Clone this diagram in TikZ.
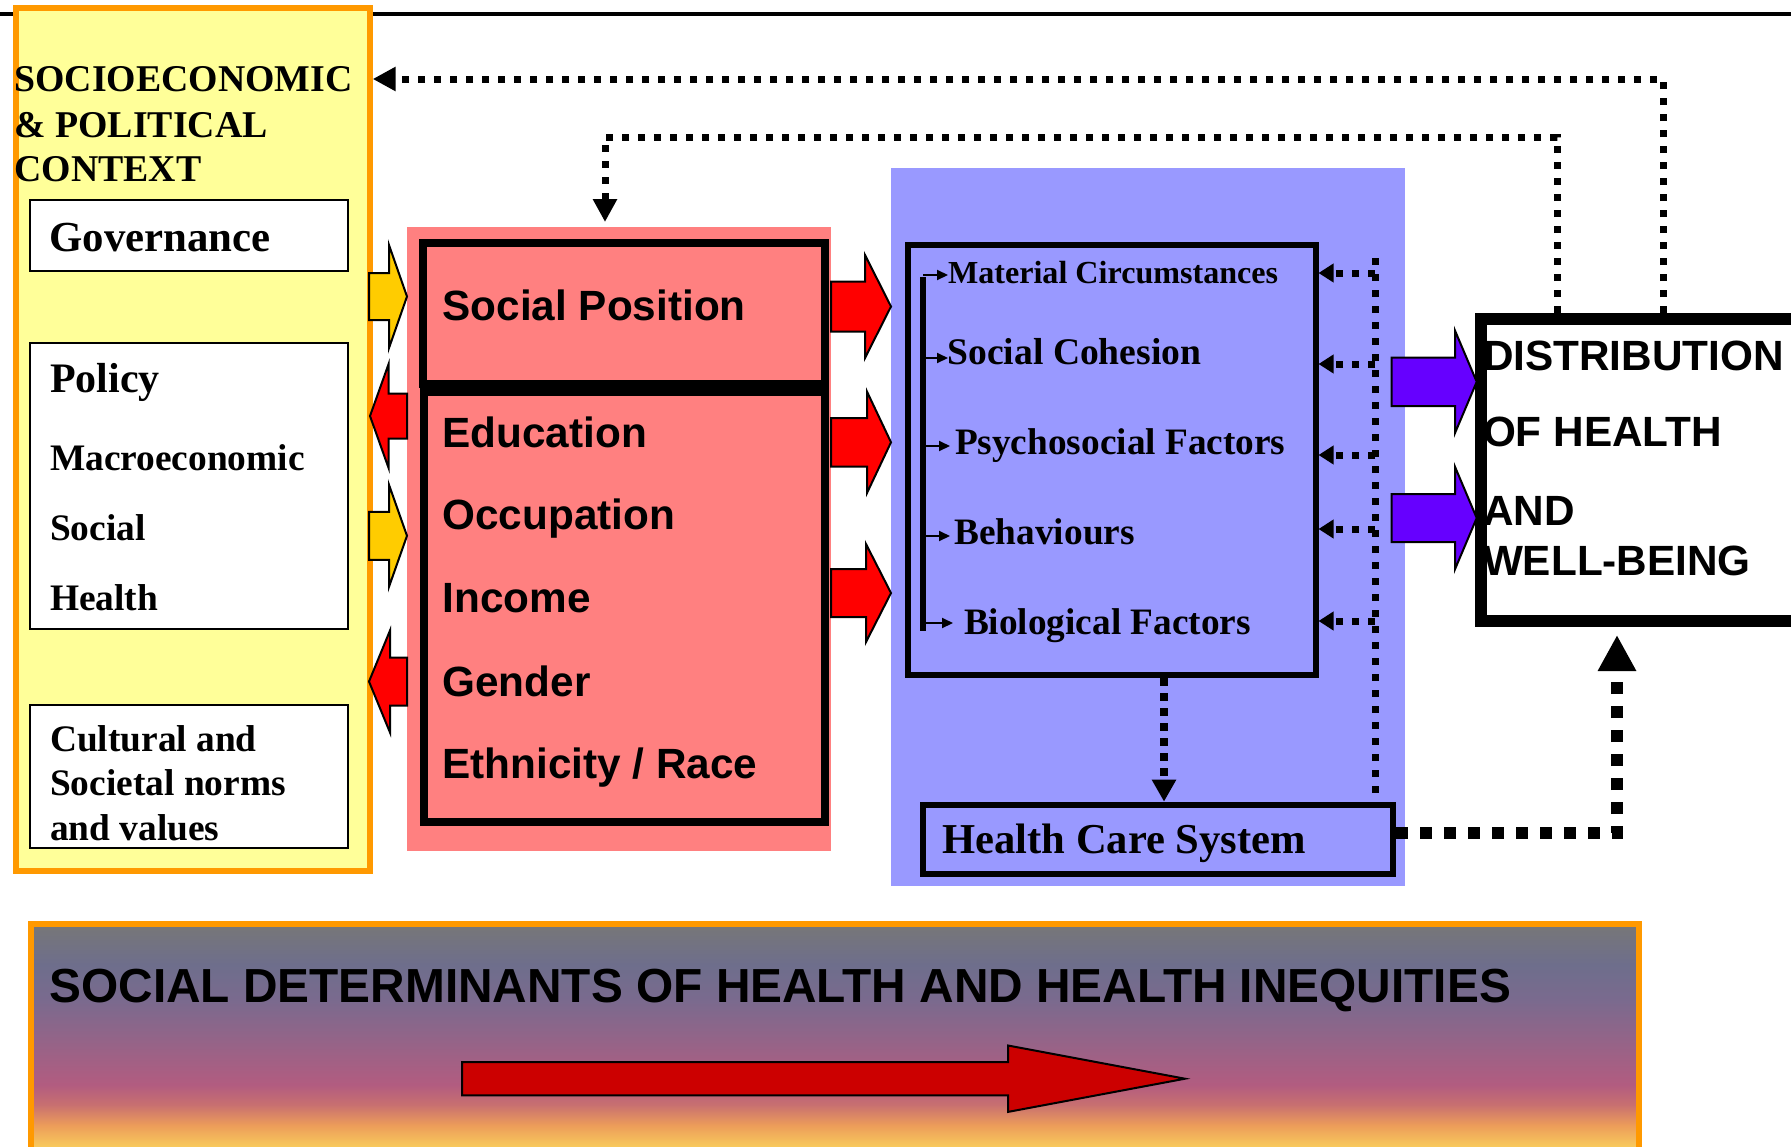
\documentclass[tikz,border=0pt]{standalone}
\usepackage{fontspec}
\setmainfont{Liberation Serif}
\setsansfont{Liberation Sans}
\usetikzlibrary{arrows.meta}
\definecolor{ctxfill}{HTML}{FFFF99}
\definecolor{ctxorange}{HTML}{FF9900}
\definecolor{pinkbg}{HTML}{FF8080}
\definecolor{bluebg}{HTML}{9999FF}
\definecolor{purplearr}{HTML}{6600FF}
\definecolor{yellowarr}{HTML}{FFCC00}
\definecolor{redarr}{HTML}{FF0000}
\definecolor{darkredarr}{HTML}{CC0000}
\definecolor{bsa}{HTML}{777777}
\definecolor{bsb}{HTML}{6E6E8C}
\definecolor{bsc}{HTML}{7A6A8E}
\definecolor{bsd}{HTML}{946488}
\definecolor{bse}{HTML}{B25C80}
\definecolor{bsf}{HTML}{C87070}
\definecolor{bsg}{HTML}{EC9C5A}
\definecolor{bsh}{HTML}{F8C85C}
\pgfdeclareverticalshading{bannershade}{100bp}{color(0bp)=(bsh); color(25bp)=(bsh); color(28bp)=(bsh); color(32.4bp)=(bsg); color(36.7bp)=(bsf); color(40.9bp)=(bse); color(50.4bp)=(bsd); color(58.9bp)=(bsc); color(66.3bp)=(bsb); color(75bp)=(bsa); color(100bp)=(bsa)}
\tikzset{
  txt/.style={anchor=base west, inner sep=0pt, outer sep=0pt},
  serifB/.style={txt, font=\rmfamily\bfseries\fontsize{#1}{#1}\selectfont},
  sansB/.style={txt, font=\sffamily\bfseries\fontsize{#1}{#1}\selectfont},
  ctxbox/.style={fill=ctxfill, draw=ctxorange, line width=6pt, inner sep=0pt},
  wbox/.style={fill=white, draw=black, line width=2pt, inner sep=0pt},
  regionbox/.style={inner sep=0pt, outer sep=0pt, draw=none},
  pbox/.style={draw=black, line width=8pt, inner sep=0pt},
  bbox/.style={draw=black, line width=6pt, inner sep=0pt},
  yarr/.style={fill=yellowarr, draw=black, line width=2pt, line join=miter},
  rarr/.style={fill=redarr, draw=black, line width=2pt, line join=miter},
  parr/.style={fill=purplearr, draw=black, line width=2pt, line join=miter},
  darr/.style={fill=darkredarr, draw=black, line width=2pt, line join=miter},
  dotA/.style={line width=7pt, dash pattern=on 7pt off 9pt},
  dotB/.style={line width=8pt, dash pattern=on 8pt off 7pt},
  dotC/.style={line width=12pt, dash pattern=on 12pt off 12pt},
  smallarr/.style={line width=2pt, -{Triangle[length=11pt,width=10pt]}},
}
\newcommand\blockarr[7]{\draw[#1] (#2,{#5-#6}) -- (#3,{#5-#6}) -- (#3,{#5-#7}) -- (#4,#5) -- (#3,{#5+#7}) -- (#3,{#5+#6}) -- (#2,{#5+#6}) -- cycle;}
\begin{document}
\begin{tikzpicture}[x=1pt,y=-1pt]
\clip (0,0) rectangle (1791,1146);
\fill[white] (0,0) rectangle (1791,1146);
\draw[line width=4.3pt] (0,13.8) -- (1791,13.8);

% context column
\node[ctxbox, minimum width=353.4pt, minimum height=863pt] (ctx) at (193,439.5) {};
\node[serifB=37.8] (ctx1) at (14.5,91.7) {SOCIOECONOMIC};
\node[serifB=37.8] (ctx2) at (14.5,137) {\& POLITICAL};
\node[serifB=37.8] (ctx3) at (14.5,181.7) {CONTEXT};
\node[wbox, minimum width=317.4pt, minimum height=71pt] (gov) at (189,235.8) {};
\node[serifB=42.8] (govt) at (49.5,251.7) {Governance};
\node[wbox, minimum width=317.4pt, minimum height=286pt] (pol) at (189,486) {};
\node[serifB=42] (polt1) at (50,392) {Policy};
\node[serifB=37.4] (polt2) at (50,470) {Macroeconomic};
\node[serifB=37.4] (polt3) at (50,540) {Social};
\node[serifB=37.4] (polt4) at (50,610) {Health};
\node[wbox, minimum width=317.4pt, minimum height=143pt] (cul) at (189,776.5) {};
\node[serifB=37.4] (cult1) at (50,751.5) {Cultural and};
\node[serifB=37.4] (cult2) at (50,795.5) {Societal norms};
\node[serifB=37.4] (cult3) at (50,840.5) {and values};

% social position
\node[regionbox, fill=pinkbg, minimum width=423.7pt, minimum height=624.3pt] (pink) at (618.85,538.85) {};
\node[pbox, minimum width=401.6pt, minimum height=140.7pt] (sp) at (623.8,313.65) {};
\node[pbox, minimum width=401pt, minimum height=430pt] (spl) at (624.5,607) {};
\node[sansB=42.3] (spt) at (442.5,320) {Social Position};
\node[sansB=42.3] (spt1) at (442.5,447) {Education};
\node[sansB=42.3] (spt2) at (442.5,529) {Occupation};
\node[sansB=42.3] (spt3) at (442.5,612) {Income};
\node[sansB=42.3] (spt4) at (442.5,696) {Gender};
\node[sansB=42.3] (spt5) at (442.5,778) {Ethnicity / Race};

% intermediary determinants
\node[regionbox, fill=bluebg, minimum width=514pt, minimum height=718.5pt] (blue) at (1148,526.75) {};
\node[bbox, minimum width=407.5pt, minimum height=430pt] (fac) at (1111.75,460) {};
\node[bbox, minimum width=470.5pt, minimum height=69pt] (hcs) at (1157.75,839.2) {};
\node[serifB=42.6] (hcst) at (942.5,853) {Health Care System};
\node[serifB=32.1] (f1) at (948,283) {Material Circumstances};
\node[serifB=37.6] (f2) at (947.5,364) {Social Cohesion};
\node[serifB=37.3] (f3) at (955,454) {Psychosocial Factors};
\node[serifB=37.3] (f4) at (954.5,544) {Behaviours};
\node[serifB=37.3] (f5) at (964,634) {Biological Factors};
\coordinate (brt) at (923,277);
\coordinate (brb) at (923,631);
\draw[line width=5.4pt] (brt) -- (brb);
\coordinate (sa1) at (948,275);
\coordinate (sa2) at (948,358);
\coordinate (sa3) at (950,446);
\coordinate (sa4) at (950,536);
\coordinate (sa5) at (953,623);
\foreach \s in {sa1,sa2,sa3,sa4,sa5} \draw[smallarr] (brt |- \s) -- (\s);

% block arrows
\blockarr{yarr}{369}{389}{407}{296.5}{23.5}{51.5}
\blockarr{yarr}{369}{389}{407}{535.8}{24}{51}
\blockarr{rarr}{407}{388.6}{370}{416}{22.5}{52}
\blockarr{rarr}{407}{390}{369}{681.5}{24}{51}
\blockarr{rarr}{831}{865}{891}{306.5}{25}{51.5}
\blockarr{rarr}{831}{867}{891}{442.3}{24.3}{50.7}
\blockarr{rarr}{831}{866}{891}{593}{24}{49}

% outcome box
\node[fill=white, draw=black, line width=12pt, inner sep=0pt, minimum width=319pt, minimum height=302pt] (dist) at (1640.5,470) {};
\node[sansB=42.3] (d1) at (1483,370.7) {DISTRIBUTION};
\node[sansB=42.3] (d2) at (1483,446.7) {OF HEALTH};
\node[sansB=42.3] (d3) at (1483,525) {AND};
\node[sansB=42.3] (d4) at (1483,575) {WELL-BEING};
\draw[line width=12pt] ([shift={(6pt,-6pt)}]dist.north west) rectangle ([shift={(-6pt,6pt)}]dist.south east);
\blockarr{parr}{1391.7}{1455}{1476.7}{381.8}{24.2}{51.2}
\blockarr{parr}{1391.7}{1455}{1476.7}{518}{24}{51.2}

% dotted feedback connectors
\coordinate (ca) at (1663,79);
\coordinate (cb) at (1557,137);
\coordinate (cc) at (605,137);
\draw[dotA, -{Triangle[length=23pt,width=23pt]}] (dist.north -| ca) -- (ca) -- (ca -| ctx.east);
\draw[dotA, -{Triangle[length=23pt,width=23pt]}, shorten >=4.7pt] (dist.north -| cb) -- (cb) -- (cc) -- (cc |- pink.north);
\coordinate (cv) at (1375,258);
\draw[dotA] (cv) -- (cv |- hcs.north);
\coordinate (dr1) at (1375,273);
\coordinate (dr2) at (1375,364);
\coordinate (dr3) at (1375,455);
\coordinate (dr4) at (1375,529);
\coordinate (dr5) at (1375,621);
\foreach \d in {dr1,dr2,dr3,dr4,dr5} \draw[dotA, -{Triangle[length=15pt,width=18pt]}] (\d) -- (\d -| fac.east);
\coordinate (cf) at (1164,700);
\draw[dotB, -{Triangle[length=22pt,width=23pt]}] (cf |- fac.south) -- (cf |- hcs.north);
\coordinate (ch) at (1617,833);
\draw[dotC, -{Triangle[length=36pt,width=36pt]}, shorten >=8pt] (hcs.east |- ch) -- (ch) -- (ch |- dist.south);

% banner
\node[shade, shading=bannershade, draw=ctxorange, line width=6pt, inner sep=0pt, minimum width=1608pt, minimum height=236pt] (banner) at (835,1042) {};
\node[sansB=47.8] (bant) at (49.5,1002.7) {SOCIAL DETERMINANTS OF HEALTH AND HEALTH INEQUITIES};
\blockarr{darr}{462}{1008}{1185}{1078.7}{16.7}{33.2}
\end{tikzpicture}
\end{document}
